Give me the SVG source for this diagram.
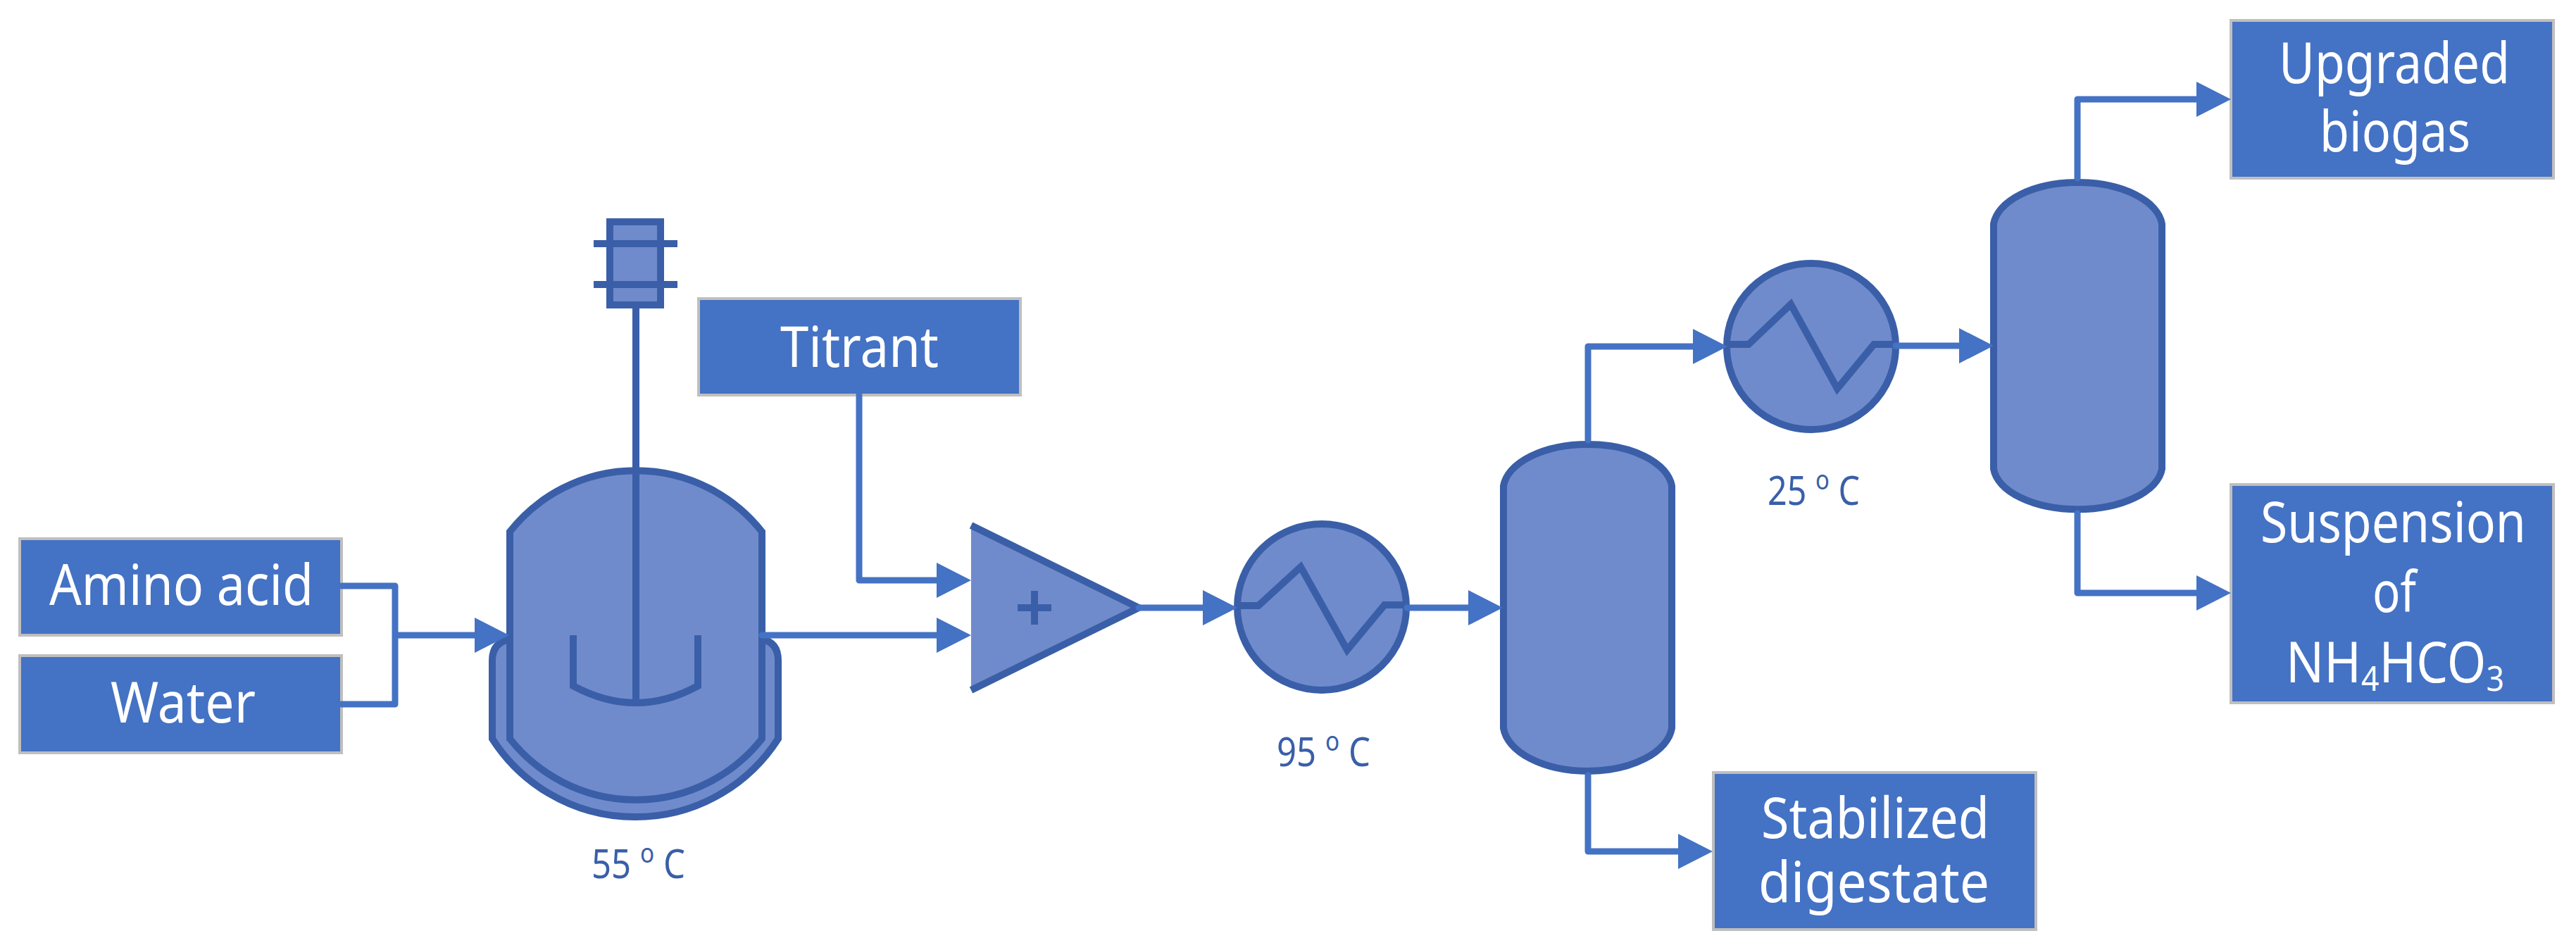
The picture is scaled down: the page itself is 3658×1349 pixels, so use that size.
<svg xmlns="http://www.w3.org/2000/svg" width="3658" height="1349" viewBox="0 0 3658 1349">
<style>
.box{fill:#4472C4;stroke:#BFBFBF;stroke-width:4}
.eq{fill:#708BCB;stroke:#3A5FA8;stroke-width:10;stroke-linejoin:miter}
.ln{fill:none;stroke:#3A5FA8;stroke-width:10}
.bare{fill:#708BCB;stroke:none}
.c{fill:none;stroke:#4472C4;stroke-width:9;stroke-linejoin:round;stroke-linecap:round}
.t{font-family:"Noto Sans","Open Sans",sans-serif;font-size:80px;fill:#fff}
.l{font-family:"Noto Sans","Open Sans",sans-serif;font-size:56px;fill:#3A5FA8}
</style>
<defs>
<path id="ah" d="M0 0L-49 -25L-49 25Z" fill="#4472C4"/>
</defs>
<g id="box-amino"><rect class="box" x="28" y="765" width="457" height="137"/><text class="t" x="70" y="859" textLength="375" lengthAdjust="spacingAndGlyphs">Amino acid</text></g>
<g id="box-water"><rect class="box" x="28" y="931" width="457" height="138"/><text class="t" x="157" y="1026" textLength="206" lengthAdjust="spacingAndGlyphs">Water</text></g>
<g id="box-titrant"><rect class="box" x="992" y="424" width="457" height="137"/><text class="t" x="1108" y="521" textLength="225" lengthAdjust="spacingAndGlyphs">Titrant</text></g>
<g id="reactor">
<path class="eq" d="M724 908Q699 912 699 938L699 1049A241 241 0 0 0 1105 1049L1105 938Q1105 912 1082 908Z"/>
<path class="eq" d="M724 755A228 228 0 0 1 1082 755L1082 1049A228 228 0 0 1 724 1049Z"/>
<rect class="eq" x="866" y="315" width="72" height="118"/>
<path class="ln" d="M843 346H962M843 404H962M903 433V993M814 902V974Q903 1022 991 974V902"/>
<text class="l" x="840" y="1247" textLength="133" lengthAdjust="spacingAndGlyphs">55 <tspan font-size="38" dy="-22">o</tspan><tspan dy="22"> C</tspan></text>
</g>
<g id="mixer">
<path class="bare" d="M1379 746L1617 863L1379 980Z"/>
<path class="ln" d="M1379 746L1617 863L1379 980"/>
<path class="ln" stroke-width="8" d="M1445 863H1493M1469 839V887"/>
</g>
<g id="hx1">
<ellipse class="eq" cx="1877" cy="862" rx="120" ry="118"/>
<path class="ln" d="M1757 860H1787L1847 805L1913 923L1966 859H1998"/>
<text class="l" x="1813" y="1088" textLength="133" lengthAdjust="spacingAndGlyphs">95 <tspan font-size="38" dy="-22">o</tspan><tspan dy="22"> C</tspan></text>
</g>
<g id="column1"><path class="eq" d="M2135 690A120 65 0 0 1 2374 690V1034A120 67 0 0 1 2135 1034Z"/></g>
<g id="hx2">
<ellipse class="eq" cx="2572" cy="492" rx="120" ry="118"/>
<path class="ln" d="M2453 489H2483L2543 432L2609 552L2661 489H2692"/>
<text class="l" x="2510" y="717" textLength="131" lengthAdjust="spacingAndGlyphs">25 <tspan font-size="38" dy="-22">o</tspan><tspan dy="22"> C</tspan></text>
</g>
<g id="column2"><path class="eq" d="M2831 318A120 65 0 0 1 3070 318V666A120 63 0 0 1 2831 666Z"/></g>
<g id="box-stabilized"><rect class="box" x="2433" y="1097" width="458" height="223"/>
<text class="t" x="2501" y="1190" textLength="324" lengthAdjust="spacingAndGlyphs">Stabilized</text>
<text class="t" x="2497" y="1281" textLength="328" lengthAdjust="spacingAndGlyphs">digestate</text></g>
<g id="box-upgraded"><rect class="box" x="3168" y="29" width="458" height="224"/>
<text class="t" x="3236" y="118" textLength="328" lengthAdjust="spacingAndGlyphs">Upgraded</text>
<text class="t" x="3294" y="215" textLength="214" lengthAdjust="spacingAndGlyphs">biogas</text></g>
<g id="box-suspension"><rect class="box" x="3168" y="688" width="458" height="310"/>
<text class="t" x="3210" y="770" textLength="377" lengthAdjust="spacingAndGlyphs">Suspension</text>
<text class="t" x="3369" y="869" textLength="62" lengthAdjust="spacingAndGlyphs">of</text>
<text class="t" x="3246" y="969" textLength="310" lengthAdjust="spacingAndGlyphs">NH<tspan font-size="50" dy="12">4</tspan><tspan dy="-12">HCO</tspan><tspan font-size="50" dy="12">3</tspan></text></g>
<g id="connectors">
<path class="c" d="M485 832H561V1000H485M561 902H680"/>
<path class="c" d="M1220 561V824H1335M1082 902H1335"/>
<path class="c" d="M1617 863H1712M1998 863H2090M2255 625V492H2408M2255 1101V1209H2387M2692 491H2786M2950 253V141H3122M2950 729V842H3122"/>
<use href="#ah" x="723" y="902"/><use href="#ah" x="1379" y="824"/><use href="#ah" x="1379" y="902"/>
<use href="#ah" x="1757" y="863"/><use href="#ah" x="2134" y="863"/><use href="#ah" x="2453" y="492"/><use href="#ah" x="2432" y="1209"/>
<use href="#ah" x="2831" y="491"/><use href="#ah" x="3168" y="141"/><use href="#ah" x="3168" y="842"/>
</g>
</svg>
